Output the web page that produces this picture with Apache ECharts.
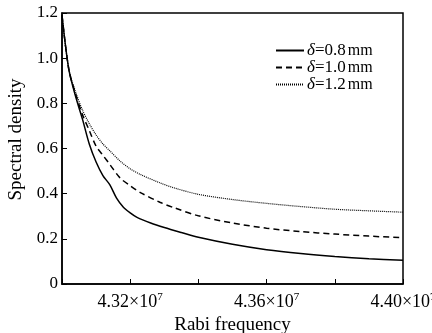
<!DOCTYPE html>
<html><head><meta charset="utf-8">
<script src="https://cdn.jsdelivr.net/npm/echarts@6/dist/echarts.min.js"></script>
<style>html,body{margin:0;padding:0;background:#fff}#c{width:432px;height:333px}</style>
</head><body><div id="c"></div>
<script>
var xs1 = [4.300,4.302,4.304,4.306,4.308,4.310,4.312,4.314,4.316,4.318,4.320,4.322,4.326,4.330,4.335,4.340,4.350,4.360,4.370,4.380,4.390,4.400];
var ys1 = [1.19,0.95,0.83,0.73,0.62,0.54,0.48,0.44,0.38,0.34,0.315,0.295,0.27,0.25,0.228,0.207,0.176,0.152,0.135,0.122,0.112,0.105];
var xs2 = [4.300,4.302,4.304,4.306,4.308,4.310,4.312,4.314,4.317,4.320,4.323,4.3287,4.333,4.340,4.350,4.360,4.370,4.380,4.390,4.400];
var ys2 = [1.19,0.95,0.84,0.75,0.68,0.61,0.57,0.53,0.47,0.435,0.405,0.362,0.337,0.302,0.27,0.247,0.232,0.221,0.212,0.205];
var xs3 = [4.300,4.302,4.304,4.306,4.308,4.310,4.312,4.314,4.317,4.320,4.323,4.3287,4.333,4.340,4.350,4.360,4.370,4.380,4.390,4.400];
var ys3 = [1.19,0.95,0.85,0.77,0.71,0.66,0.62,0.59,0.545,0.51,0.485,0.448,0.425,0.397,0.374,0.357,0.343,0.331,0.324,0.318];
var seriesNames = ['δ=0.8mm','δ=1.0mm','δ=1.2mm'];
var xLabels = ['4.32','4.36','4.40'];
var yLabels = ['0','0.2','0.4','0.6','0.8','1.0','1.2'];

function pairs(xs, ys){ return xs.map(function(x,i){return [x, ys[i]];}); }
var font = 'Liberation Serif';
var chart = echarts.init(document.getElementById('c'), null, {renderer:'canvas'});
chart.setOption({
  animation:false,
  grid:{left:62,right:29,top:13,bottom:49,show:true,borderColor:'#000',borderWidth:1.5,backgroundColor:'transparent',containLabel:false,outerBoundsMode:'none'},
  legend:{
    left:270, top:37, orient:'vertical', itemWidth:28, itemHeight:10, itemGap:0,
    itemStyle:{opacity:0},
    data: seriesNames,
    formatter:function(n){ var p=n.split('='); return '{i|δ}{n|='+p[1].replace('mm','')+'}{m|mm}'; },
    textStyle:{fontFamily:font, fontSize:17, color:'#000', padding:[0,0,0,-2],
      rich:{i:{fontStyle:'italic',fontFamily:font,fontSize:17,color:'#000',lineHeight:17},
            n:{fontFamily:font,fontSize:17,color:'#000',lineHeight:17},
            m:{fontFamily:font,fontSize:16,color:'#000',lineHeight:17,padding:[0,0,0,2]}}}
  },
  xAxis:{
    type:'value', min:4.30, max:4.40, interval:0.02,
    name:'Rabi frequency', nameLocation:'middle', nameGap:26,
    nameTextStyle:{fontFamily:font,fontSize:19,color:'#000'},
    axisLine:{lineStyle:{color:'#000',width:1.5}},
    axisTick:{inside:true,length:5,lineStyle:{color:'#000',width:1}},
    splitLine:{show:false},
    axisLabel:{margin:8, color:'#000',
      formatter:function(v){ var s=v.toFixed(2); if(xLabels.indexOf(s)<0) return ''; return '{a|'+s+'×10}{b|7}'; },
      rich:{a:{fontFamily:font,fontSize:18,color:'#000'},b:{fontFamily:font,fontSize:11,color:'#000',verticalAlign:'top',padding:[0,0,9,0]}}}
  },
  yAxis:{
    type:'value', min:0, max:1.2, interval:0.2,
    name:'Spectral density', nameLocation:'middle', nameGap:29,
    nameTextStyle:{fontFamily:font,fontSize:19,color:'#000',padding:[0,0,0,18]},
    axisLine:{lineStyle:{color:'#000',width:1.5}},
    axisTick:{inside:true,length:5,lineStyle:{color:'#000',width:1}},
    splitLine:{show:false},
    axisLabel:{margin:4,fontFamily:font,fontSize:17,color:'#000',
      formatter:function(v){ var i=Math.round(v/0.2); return yLabels[i]; }}
  },
  series:[
    {name:seriesNames[0],type:'line',showSymbol:false,symbol:'none',smooth:0.3,data:pairs(xs1,ys1),lineStyle:{color:'#000',width:1.5,type:'solid'},itemStyle:{color:'#000'}},
    {name:seriesNames[1],type:'line',showSymbol:false,symbol:'none',smooth:0.3,data:pairs(xs2,ys2),lineStyle:{color:'#000',width:1.5,type:[6,4]},itemStyle:{color:'#000'}},
    {name:seriesNames[2],type:'line',showSymbol:false,symbol:'none',smooth:0.3,data:pairs(xs3,ys3),lineStyle:{color:'#000',width:1.2,type:[1,1]},itemStyle:{color:'#000'}}
  ]
});
</script>
</body></html>
